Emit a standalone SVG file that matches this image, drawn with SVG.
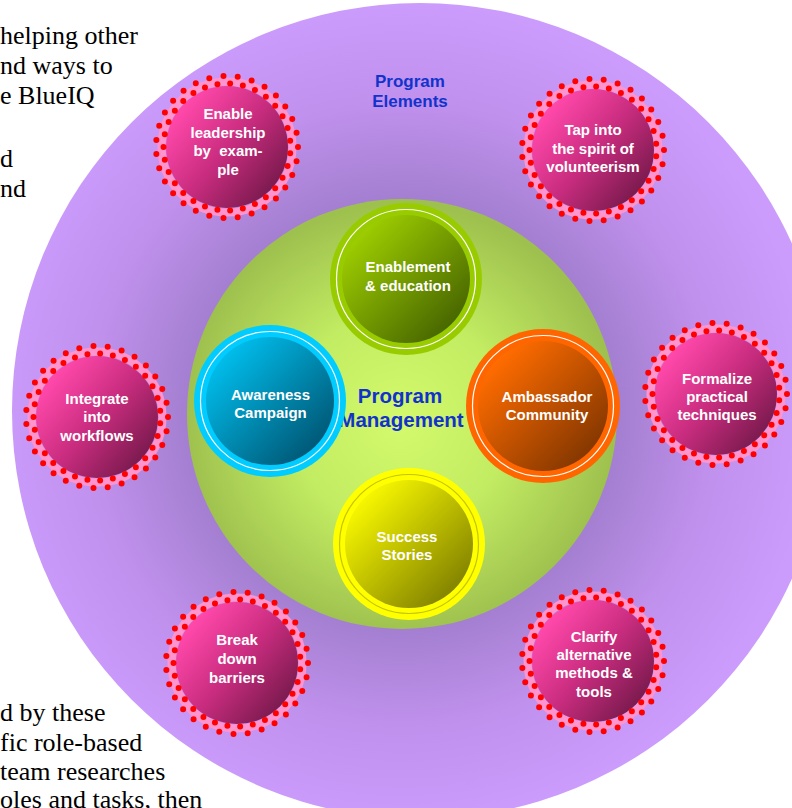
<svg xmlns="http://www.w3.org/2000/svg" width="792" height="808" viewBox="0 0 792 808">
  <defs>
    <radialGradient id="gPurple" gradientUnits="userSpaceOnUse" cx="402" cy="414" r="412">
      <stop offset="0" stop-color="#9A78C8"/>
      <stop offset="0.5" stop-color="#A27ED0"/>
      <stop offset="0.56" stop-color="#A882D4"/>
      <stop offset="0.75" stop-color="#BF90EC"/>
      <stop offset="1" stop-color="#CB9CFC"/>
    </radialGradient>
    <radialGradient id="gGreen" gradientUnits="userSpaceOnUse" cx="400" cy="420" r="216">
      <stop offset="0" stop-color="#D4FA6C"/>
      <stop offset="0.5" stop-color="#C2EC62"/>
      <stop offset="1" stop-color="#9EC04E"/>
    </radialGradient>
    <linearGradient id="gPink" x1="0.12" y1="0.2" x2="0.88" y2="0.85">
      <stop offset="0" stop-color="#FF48AA"/>
      <stop offset="0.5" stop-color="#C82C7E"/>
      <stop offset="1" stop-color="#7A1A4E"/>
    </linearGradient>
    <linearGradient id="gLime" x1="0.15" y1="0.15" x2="0.85" y2="0.85">
      <stop offset="0" stop-color="#9CCC00"/>
      <stop offset="1" stop-color="#4A6800"/>
    </linearGradient>
    <linearGradient id="gCyan" x1="0.15" y1="0.15" x2="0.85" y2="0.85">
      <stop offset="0" stop-color="#00BCEA"/>
      <stop offset="1" stop-color="#005A78"/>
    </linearGradient>
    <linearGradient id="gOrange" x1="0.15" y1="0.15" x2="0.85" y2="0.85">
      <stop offset="0" stop-color="#FF6C00"/>
      <stop offset="1" stop-color="#863800"/>
    </linearGradient>
    <linearGradient id="gYellow" x1="0.15" y1="0.15" x2="0.85" y2="0.85">
      <stop offset="0" stop-color="#F6F600"/>
      <stop offset="1" stop-color="#858500"/>
    </linearGradient>
    <style>
      .doc { font-family: "Liberation Serif", "Times New Roman", serif; font-size: 26px; fill: #000; }
      .lbl { font-family: "Liberation Sans", Arial, sans-serif; font-weight: bold; font-size: 15px; fill: #FFFFFF; text-anchor: middle; }
      .title { font-family: "Liberation Sans", Arial, sans-serif; font-weight: bold; fill: #1133CC; text-anchor: middle; }
      .band { fill: none; stroke: #FF94CE; stroke-width: 8; }
      .dots { fill: none; stroke: #FF0000; stroke-width: 6; stroke-linecap: round; stroke-dasharray: 0 1; }
      .dots.in { stroke-dashoffset: 0.5; }
      .hl { fill: none; stroke: #FFFFFF; stroke-width: 1.2; }
    </style>
  </defs>

  <rect width="792" height="808" fill="#FFFFFF"/>

  <!-- surrounding page text -->
  <g id="page-text" class="doc">
    <text x="0" y="44">helping other</text>
    <text x="0" y="74">nd ways to</text>
    <text x="0" y="104">e BlueIQ</text>
    <text x="0" y="167">d</text>
    <text x="0" y="197">nd</text>
    <text x="0" y="721">d by these</text>
    <text x="0" y="751">fic role-based</text>
    <text x="0" y="780">team researches</text>
    <text x="0" y="808">oles and tasks, then</text>
  </g>

  <!-- outer ring: program elements -->
  <g id="program-elements">
    <circle cx="420" cy="411" r="408" fill="url(#gPurple)"/>
    <text class="title" x="410" y="87" font-size="17">Program</text>
    <text class="title" x="410" y="107" font-size="17">Elements</text>
  </g>

  <!-- inner disc: program management -->
  <g id="program-management">
    <circle cx="402" cy="414" r="215" fill="url(#gGreen)"/>
    <text class="title" x="400" y="403" font-size="20.5">Program</text>
    <text class="title" x="401" y="427" font-size="20.5">Management</text>
  </g>

  <!-- connectors (none drawn) -->
  <g id="connectors"/>

  <!-- management components -->
  <g id="enablement" transform="translate(406,279)">
    <circle r="76" fill="#99CC00"/>
    <circle r="64" fill="url(#gLime)"/>
    <circle r="69.5" class="hl"/>
    <text class="lbl" x="2" y="-7">Enablement</text>
    <text class="lbl" x="2" y="12">&amp; education</text>
  </g>

  <g id="awareness" transform="translate(270,401)">
    <circle r="76" fill="#00CCFF"/>
    <circle r="64" fill="url(#gCyan)"/>
    <circle r="69.5" class="hl"/>
    <text class="lbl" x="0.5" y="-1">Awareness</text>
    <text class="lbl" x="0.5" y="17">Campaign</text>
  </g>

  <g id="ambassador" transform="translate(543,406)">
    <circle r="77" fill="#FF6600"/>
    <circle r="65" fill="url(#gOrange)"/>
    <circle r="70.5" class="hl"/>
    <text class="lbl" x="4" y="-4">Ambassador</text>
    <text class="lbl" x="4" y="14">Community</text>
  </g>

  <g id="success" transform="translate(409,544)">
    <circle r="76" fill="#FFFF00"/>
    <circle r="64" fill="url(#gYellow)"/>
    <circle r="69.5" fill="none" stroke="#C4C400" stroke-width="1.2"/>
    <text class="lbl" x="-2" y="-2">Success</text>
    <text class="lbl" x="-2" y="16">Stories</text>
  </g>

  <!-- program elements: dotted pink nodes -->
  <g id="enable-leadership" transform="translate(227,147)">
    <circle r="61" fill="url(#gPink)"/>
    <circle r="65.5" class="band"/>
    <circle r="71" class="dots" pathLength="31"/>
    <circle r="63.5" class="dots in" pathLength="31"/>
    <text class="lbl" x="1" y="-28">Enable</text>
    <text class="lbl" x="1" y="-9.5">leadership</text>
    <text class="lbl" x="1" y="9" xml:space="preserve">by  exam-</text>
    <text class="lbl" x="1" y="27.5">ple</text>
  </g>

  <g id="tap-into" transform="translate(593,150)">
    <circle r="61" fill="url(#gPink)"/>
    <circle r="65.5" class="band"/>
    <circle r="71" class="dots" pathLength="31"/>
    <circle r="63.5" class="dots in" pathLength="31"/>
    <text class="lbl" x="0" y="-15">Tap into</text>
    <text class="lbl" x="0" y="4">the spirit of</text>
    <text class="lbl" x="0" y="22">volunteerism</text>
  </g>

  <g id="integrate" transform="translate(97,417)">
    <circle r="61" fill="url(#gPink)"/>
    <circle r="65.5" class="band"/>
    <circle r="71" class="dots" pathLength="31"/>
    <circle r="63.5" class="dots in" pathLength="31"/>
    <text class="lbl" x="0" y="-13">Integrate</text>
    <text class="lbl" x="0" y="5">into</text>
    <text class="lbl" x="0" y="24">workflows</text>
  </g>

  <g id="formalize" transform="translate(716,394)">
    <circle r="61" fill="url(#gPink)"/>
    <circle r="65.5" class="band"/>
    <circle r="71" class="dots" pathLength="31"/>
    <circle r="63.5" class="dots in" pathLength="31"/>
    <text class="lbl" x="1" y="-10">Formalize</text>
    <text class="lbl" x="1" y="8">practical</text>
    <text class="lbl" x="1" y="26">techniques</text>
  </g>

  <g id="break-down" transform="translate(237,663)">
    <circle r="61" fill="url(#gPink)"/>
    <circle r="65.5" class="band"/>
    <circle r="71" class="dots" pathLength="31"/>
    <circle r="63.5" class="dots in" pathLength="31"/>
    <text class="lbl" x="0" y="-18">Break</text>
    <text class="lbl" x="0" y="1">down</text>
    <text class="lbl" x="0" y="20">barriers</text>
  </g>

  <g id="clarify" transform="translate(593,661)">
    <circle r="61" fill="url(#gPink)"/>
    <circle r="65.5" class="band"/>
    <circle r="71" class="dots" pathLength="31"/>
    <circle r="63.5" class="dots in" pathLength="31"/>
    <text class="lbl" x="1" y="-19">Clarify</text>
    <text class="lbl" x="1" y="-1">alternative</text>
    <text class="lbl" x="1" y="17">methods &amp;</text>
    <text class="lbl" x="1" y="36">tools</text>
  </g>
</svg>
